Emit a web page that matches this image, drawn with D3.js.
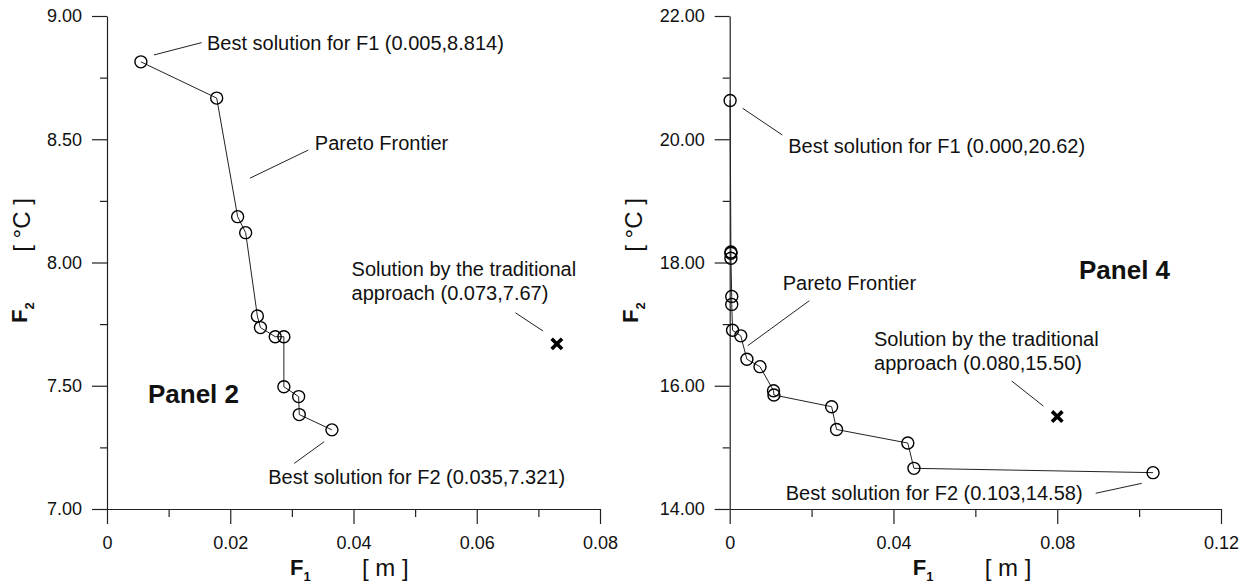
<!DOCTYPE html>
<html>
<head>
<meta charset="utf-8">
<script src="https://cdn.jsdelivr.net/npm/d3@7"></script>
<style>
  body { margin: 0; background: #fff; }
  svg { display: block; }
  text { font-family: "Liberation Sans", Arial, sans-serif; fill: #111; }
</style>
</head>
<body>
<svg width="1251" height="586"></svg>
<script>
// ---- data ----
// Panel 2
let leftF1 = [0.0055, 0.0178, 0.0212, 0.0225, 0.0244, 0.0249, 0.0273, 0.0287, 0.0287, 0.0311, 0.0312, 0.0365];
let leftF2 = [8.814, 8.667, 8.186, 8.121, 7.783, 7.736, 7.699, 7.699, 7.496, 7.456, 7.383, 7.321];
// Panel 4
let rightF1 = [0.0001, 0.0003, 0.0003, 0.0003, 0.0005, 0.0005, 0.0007, 0.0027, 0.0042, 0.0074, 0.0107, 0.0108, 0.0249, 0.0261, 0.0435, 0.0450, 0.1034];
let rightF2 = [20.63, 18.17, 18.15, 18.07, 17.45, 17.32, 16.90, 16.81, 16.43, 16.31, 15.92, 15.85, 15.66, 15.29, 15.07, 14.66, 14.59];
// traditional approach solutions [panel2, panel4]
let tradF1 = [0.073, 0.080];
let tradF2 = [7.67, 15.50];

// ticks
let leftXMajor = [0, 0.02, 0.04, 0.06, 0.08];
let leftXMinor = [0.01, 0.03, 0.05, 0.07];
let leftYMajor = [7, 7.5, 8, 8.5, 9];
let leftYMinor = [7.25, 7.75, 8.25, 8.75];
let rightXMajor = [0, 0.04, 0.08, 0.12];
let rightXMinor = [0.02, 0.06, 0.10];
let rightYMajor = [14, 16, 18, 20, 22];
let rightYMinor = [15, 17, 19, 21];

// annotation texts
let leftNotes = ["Best solution for F1 (0.005,8.814)", "Pareto Frontier", "Solution by the traditional", "approach (0.073,7.67)", "Best solution for F2 (0.035,7.321)"];
let rightNotes = ["Best solution for F1 (0.000,20.62)", "Pareto Frontier", "Solution by the traditional", "approach (0.080,15.50)", "Best solution for F2 (0.103,14.58)"];
let panelNames = ["Panel 2", "Panel 4"];
//--------------------------------------

let svg = d3.select("svg");

function fmtX(d) { return d === 0 ? "0" : d3.format(".2f")(d); }

function drawPanel(p) {
  let x = d3.scaleLinear().domain(p.xDomain).range(p.xRange);
  let y = d3.scaleLinear().domain(p.yDomain).range([509, 16]);
  let g = svg.append("g");
  let x0 = p.xRange[0];

  // axes (major + minor ticks)
  let gx = g.append("g").attr("transform", "translate(0,509)")
    .call(d3.axisBottom(x).tickValues(p.xMajor).tickSize(15).tickSizeOuter(0).tickPadding(12).tickFormat(fmtX));
  g.append("g").attr("transform", "translate(0,509)")
    .call(d3.axisBottom(x).tickValues(p.xMinor).tickSize(8).tickFormat(""))
    .select(".domain").remove();
  let gy = g.append("g").attr("transform", "translate(" + x0 + ",0)")
    .call(d3.axisLeft(y).tickValues(p.yMajor).tickSize(15).tickSizeOuter(0).tickPadding(10).tickFormat(d3.format(".2f")));
  g.append("g").attr("transform", "translate(" + x0 + ",0)")
    .call(d3.axisLeft(y).tickValues(p.yMinor).tickSize(7).tickFormat(""))
    .select(".domain").remove();
  g.selectAll(".domain, .tick line").attr("stroke", "#222").attr("stroke-width", 1.2);
  g.selectAll(".tick text").style("font-size", "18px").style("font-family", "'Liberation Sans', Arial, sans-serif").attr("fill", "#111");

  // axis titles
  let yt = g.append("text").attr("transform", "translate(" + (x0 + p.fOff) + ",323) rotate(-90)")
    .style("font-size", "22px").style("font-weight", "bold");
  yt.append("tspan").text("F");
  yt.append("tspan").text("2").attr("dy", 7).style("font-size", "13px");
  g.append("text").attr("transform", "translate(" + (x0 + p.unitOff) + ",225) rotate(-90)")
    .attr("text-anchor", "middle").style("font-size", "24px").text("[ \u00B0C ]");

  let xt = g.append("text").attr("x", x0 + 183).attr("y", 575)
    .style("font-size", "22px").style("font-weight", "bold");
  xt.append("tspan").text("F");
  xt.append("tspan").text("1").attr("dy", 6).style("font-size", "13px");
  g.append("text").attr("x", x0 + 255).attr("y", 576).style("font-size", "24px").text("[ m ]");

  // pareto line + points
  let pts = p.f1.map(function(d, i) { return [d, p.f2[i]]; });
  g.append("path").datum(pts)
    .attr("d", d3.line().x(function(d) { return x(d[0]); }).y(function(d) { return y(d[1]); }))
    .attr("fill", "none").attr("stroke", "#222").attr("stroke-width", 1);
  g.selectAll("circle.pt").data(pts).enter().append("circle")
    .attr("class", "pt")
    .attr("cx", function(d) { return x(d[0]); })
    .attr("cy", function(d) { return y(d[1]); })
    .attr("r", 6)
    .attr("fill", "none").attr("stroke", "#000").attr("stroke-width", 1.4);

  // traditional solution marker
  let sym = d3.symbolTimes || d3.symbolX;
  if (sym) {
    g.append("path")
      .attr("d", d3.symbol().type(sym).size(72)())
      .attr("transform", "translate(" + x(p.trad[0]) + "," + y(p.trad[1]) + ")")
      .attr("fill", "none").attr("stroke", "#000").attr("stroke-width", 3.6);
  } else {
    g.append("path")
      .attr("d", d3.symbol().type(d3.symbolCross).size(60)())
      .attr("transform", "translate(" + x(p.trad[0]) + "," + y(p.trad[1]) + ") rotate(45)")
      .attr("fill", "#000");
  }

  // annotations: leader lines and texts, anchored in data units
  p.leaders.forEach(function(l) {
    g.append("line")
      .attr("x1", x(l[0])).attr("y1", y(l[1]))
      .attr("x2", x(l[2])).attr("y2", y(l[3]))
      .attr("stroke", "#222").attr("stroke-width", 1);
  });
  p.labels.forEach(function(l, i) {
    g.append("text").attr("x", x(l[0])).attr("y", y(l[1]))
      .attr("dy", l[2] || 0)
      .style("font-size", "20px").text(p.notes[i]);
  });
  g.append("text").attr("x", x(p.panelPos[0])).attr("y", y(p.panelPos[1]))
    .style("font-size", "26px").style("font-weight", "bold").text(p.name);
}

drawPanel({
  xDomain: [0, 0.08], xRange: [107, 600], yDomain: [7, 9],
  xMajor: leftXMajor, xMinor: leftXMinor, yMajor: leftYMajor, yMinor: leftYMinor,
  f1: leftF1, f2: leftF2, trad: [tradF1[0], tradF2[0]],
  fOff: -80, unitOff: -77,
  notes: leftNotes, name: panelNames[0],
  leaders: [[0.00762, 8.842, 0.01536, 8.892], [0.02319, 8.342, 0.03265, 8.456],
            [0.06628, 7.796, 0.07076, 7.722], [0.03038, 7.185, 0.03524, 7.273]],
  labels: [[0.01622, 8.862], [0.03373, 8.456], [0.03969, 7.945], [0.03969, 7.945, 24], [0.02616, 7.100]],
  panelPos: [0.00665, 7.430]
});

drawPanel({
  xDomain: [0, 0.12], xRange: [729.7, 1221], yDomain: [14, 22],
  xMajor: rightXMajor, xMinor: rightXMinor, yMajor: rightYMajor, yMinor: rightYMinor,
  f1: rightF1, f2: rightF2, trad: [tradF1[1], tradF2[1]],
  fOff: -92, unitOff: -88,
  notes: rightNotes, name: panelNames[1],
  leaders: [[0.00318, 20.502, 0.01285, 20.069], [0.00440, 16.650, 0.01944, 17.380],
            [0.06888, 16.077, 0.07660, 15.671], [0.08940, 14.255, 0.10064, 14.417]],
  labels: [[0.01431, 19.782], [0.01295, 17.554], [0.03525, 16.645], [0.03525, 16.645, 24], [0.01368, 14.146]],
  panelPos: [0.08532, 17.732]
});
</script>
</body>
</html>
